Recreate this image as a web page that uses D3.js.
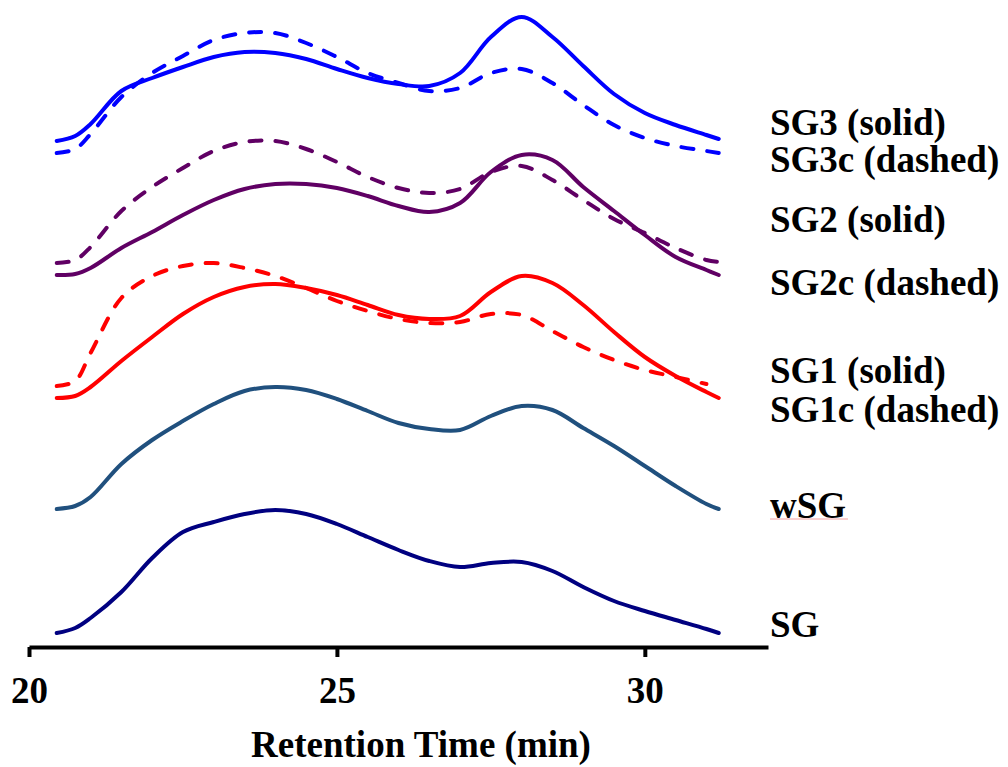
<!DOCTYPE html>
<html>
<head>
<meta charset="utf-8">
<script src="https://cdn.jsdelivr.net/npm/d3@7"></script>
<style>
  body { margin: 0; background: #fff; }
  text { font-family: "Liberation Serif", "Times New Roman", serif; font-weight: bold; }
</style>
</head>
<body>
<div id="chart"></div>
<script>
// retention times (min) at which the traces were read
const times = [20.45, 20.75, 21, 21.5, 22, 22.5, 23, 23.5, 24, 24.5, 25, 25.5, 26, 26.5, 27, 27.5, 28, 28.5, 29, 29.5, 30, 30.5, 31, 31.2]

// detector signal above each trace's own baseline
const sg   = [0, 5, 15, 41, 75, 101, 111, 119, 123, 119, 109, 96, 83, 72, 66, 70, 71, 62, 46, 32, 22, 13, 4, 0]
const wsg  = [0, 3, 12, 45, 69, 88, 105, 118, 122, 119, 110, 98, 86, 80, 79, 93, 103, 99, 81, 63, 43, 23, 5, 0]
const sg1  = [0, 2, 11, 37, 61, 84, 101, 111, 114, 110, 103, 93, 83, 79, 82, 106, 122, 115, 93, 66, 41, 22, 6, 0]
const sg1c = [0, 5, 33, 88, 110, 120, 123, 118, 110, 98, 85, 75, 67, 63, 64, 72, 71, 55, 39, 26, 16, 9, 2]
const sg2  = [0, 1, 7, 27, 43, 60, 75, 86, 91, 91, 87, 79, 69, 63, 72, 103, 120, 115, 88, 64, 40, 18, 5, 0]
const sg2c = [0, 3, 16, 52, 76, 95, 112, 121, 122, 114, 101, 86, 75, 70, 74, 91, 97, 83, 63, 44, 30, 15, 3, 1]
const sg3  = [0, 5, 17, 50, 63, 74, 84, 89, 88, 82, 72, 63, 57, 55, 68, 104, 124, 104, 75, 47, 28, 16, 6, 2]
const sg3c = [0, 4, 19, 56, 80, 97, 113, 120, 120, 110, 96, 80, 70, 62, 65, 80, 84, 70, 48, 28, 15, 7, 2, 0]

// vertical stacking offset of each trace (same units as the signal)
const offsets = { sg: 14, wsg: 138, sg1: 249, sg1c: 261, sg2: 372, sg2c: 384, sg3: 506, sg3c: 494 }

const xTicks = [20, 25, 30]
const labels = ['SG3 (solid)', 'SG3c (dashed)', 'SG2 (solid)', 'SG2c (dashed)', 'SG1 (solid)', 'SG1c (dashed)', 'wSG', 'SG']

const series = [
    { key: 'sg',   values: sg,   color: '#000080', dashed: false },
    { key: 'wsg',  values: wsg,  color: '#20507e', dashed: false },
    { key: 'sg1c', values: sg1c, color: '#ff0000', dashed: true },
    { key: 'sg1',  values: sg1,  color: '#ff0000', dashed: false },
    { key: 'sg2c', values: sg2c, color: '#600064', dashed: true },
    { key: 'sg2',  values: sg2,  color: '#600064', dashed: false },
    { key: 'sg3c', values: sg3c, color: '#0000ff', dashed: true },
    { key: 'sg3',  values: sg3,  color: '#0000ff', dashed: false }
]

const width = 1008
const height = 767
const axisY = 647

const svg = d3.select('#chart')
    .append('svg')
    .attr('width', width)
    .attr('height', height)

const x = d3.scaleLinear()
    .domain([20, 32])
    .range([29, 768])

const y = d3.scaleLinear()
    .domain([0, 640])
    .range([axisY, axisY - 640])

const line = d3.line()
    .x(d => x(d[0]))
    .y(d => y(d[1]))
    .curve(d3.curveCatmullRom)

svg.append('g')
    .selectAll('path')
    .data(series)
    .join('path')
        .attr('d', s => line(s.values.map((v, i) => [times[i], v + offsets[s.key]])))
        .attr('fill', 'none')
        .attr('stroke', s => s.color)
        .attr('stroke-width', 4)
        .attr('stroke-linecap', 'round')
        .attr('stroke-linejoin', 'round')
        .attr('stroke-dasharray', s => s.dashed ? '12,14' : null)

function xAxis(g) {
    g.attr('transform', `translate(0,${axisY})`)
        .call(d3.axisBottom(x).tickValues(xTicks).tickSize(10).tickSizeOuter(0).tickPadding(20))
        .call(g => g.select('.domain').attr('stroke-width', 4))
        .call(g => g.selectAll('.tick line').attr('stroke-width', 4))
        .call(g => g.selectAll('.tick text')
            .attr('font-size', '37px')
            .attr('font-family', '"Liberation Serif", serif')
            .attr('font-weight', 'bold')
            .attr('fill', '#000'))
}
svg.append('g').call(xAxis)

svg.append('text')
    .attr('x', 421)
    .attr('y', 757)
    .attr('text-anchor', 'middle')
    .attr('font-size', '37px')
    .text('Retention Time (min)')

// trace labels on the right
const labelY = [135, 172, 232, 295, 383, 422, 518, 637]
svg.append('g')
    .selectAll('text')
    .data(labels)
    .join('text')
        .attr('x', 770)
        .attr('y', (d, i) => labelY[i])
        .attr('font-size', '37px')
        .text(d => d)

// spell-check underline that shows under wSG in the original
svg.append('line')
    .attr('x1', 770).attr('x2', 848)
    .attr('y1', 519).attr('y2', 519)
    .attr('stroke', '#f4a0a0')
    .attr('stroke-width', 1)
</script>
</body>
</html>
